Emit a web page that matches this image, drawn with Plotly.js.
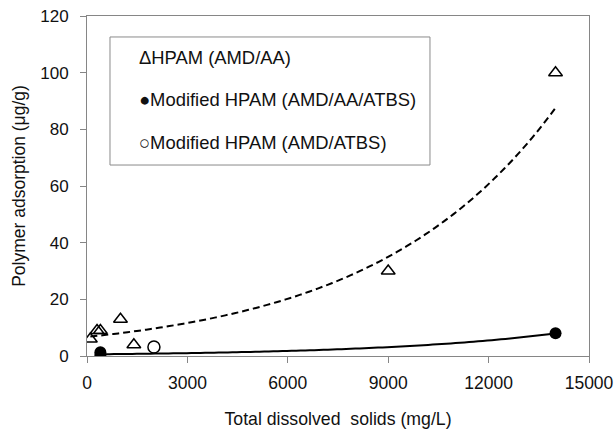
<!DOCTYPE html>
<html>
<head>
<meta charset="utf-8">
<script src="https://cdn.plot.ly/plotly-3.0.1.min.js"></script>
<style>html,body{margin:0;padding:0;background:#fff;}#chart{width:616px;height:435px;}</style>
</head>
<body>
<div id="chart"></div>
<script>
// HPAM (AMD/AA) - open triangles
const hpamX = [100, 300, 400, 1000, 1400, 9000, 14000];
const hpamY = [6, 9, 9, 13, 4, 30, 100];
// Modified HPAM (AMD/AA/ATBS) - filled circles
const modAX = [400, 400, 14000];
const modAY = [0.3, 1.3, 8];
// Modified HPAM (AMD/ATBS) - open circles
const modBX = [2000];
const modBY = [3.2];

const xTicks = [0, 3000, 6000, 9000, 12000, 15000];
const yTicks = [0, 20, 40, 60, 80, 100, 120];

const legendLines = [
  'ΔHPAM (AMD/AA)',
  '●Modified HPAM (AMD/AA/ATBS)',
  '○Modified HPAM (AMD/ATBS)'
];

// Exponential trendline (least squares on ln y), like a spreadsheet trendline
function expFit(xs, ys, n) {
  const ly = ys.map(v => Math.log(v));
  const m = xs.length;
  const mx = xs.reduce((a, b) => a + b, 0) / m;
  const my = ly.reduce((a, b) => a + b, 0) / m;
  let sxy = 0, sxx = 0;
  for (let i = 0; i < m; i++) { sxy += (xs[i] - mx) * (ly[i] - my); sxx += (xs[i] - mx) ** 2; }
  const b = sxy / sxx, a = Math.exp(my - b * mx);
  const x0 = Math.min(...xs), x1 = Math.max(...xs);
  const fx = [], fy = [];
  for (let i = 0; i <= n; i++) { const x = x0 + (x1 - x0) * i / n; fx.push(x); fy.push(a * Math.exp(b * x)); }
  return {x: fx, y: fy};
}
const fitA = expFit(hpamX, hpamY, 100);
const fitB = expFit(modAX, modAY, 100);

const FONT = 'Liberation Sans, Arial, sans-serif';

const traces = [
  {x: fitA.x, y: fitA.y, mode: 'lines', line: {color: '#000', width: 2, dash: '7px,4px', simplify: false}, hoverinfo: 'skip'},
  {x: fitB.x, y: fitB.y, mode: 'lines', line: {color: '#000', width: 2, simplify: false}, hoverinfo: 'skip'},
  {x: hpamX, y: hpamY, mode: 'markers', marker: {symbol: 'triangle-up-open', size: 12, color: '#000', line: {width: 1.5, color: '#000'}}},
  {x: modBX, y: modBY, mode: 'markers', marker: {symbol: 'circle-open', size: 12, color: '#000', line: {width: 1.5, color: '#000'}}},
  {x: modAX, y: modAY, mode: 'markers', marker: {symbol: 'circle', size: 12, color: '#000'}}
];

const annotations = legendLines.map((t, i) => ({
  text: t, x: 1494, y: [105.2, 90.4, 75.5][i], xref: 'x', yref: 'y',
  xanchor: 'left', yanchor: 'middle', showarrow: false,
  font: {family: FONT, size: 18.4, color: '#111'}
}));

const layout = {
  width: 616, height: 435,
  margin: {l: 87, r: 27, t: 16, b: 79},
  paper_bgcolor: '#fff', plot_bgcolor: '#fff',
  showlegend: false,
  font: {family: FONT, size: 17, color: '#111'},
  xaxis: {
    range: [0, 15000], tickvals: xTicks, ticktext: xTicks.map(String),
    showgrid: false, zeroline: false, showline: true, linecolor: '#868686', linewidth: 1,
    mirror: true, ticks: 'outside', ticklen: 6, tickcolor: '#868686', ticklabelstandoff: 5,
    tickfont: {family: FONT, size: 17.5, color: '#111'},
    title: {text: 'Total dissolved  solids (mg/L)', font: {family: FONT, size: 17.7, color: '#111'}, standoff: 20}
  },
  yaxis: {
    range: [0, 120], tickvals: yTicks, ticktext: yTicks.map(String),
    showgrid: false, zeroline: false, showline: true, linecolor: '#868686', linewidth: 1,
    mirror: true, ticks: 'outside', ticklen: 6, tickcolor: '#868686', ticklabelstandoff: 8,
    tickfont: {family: FONT, size: 17, color: '#111'},
    title: {text: 'Polymer adsorption (μg/g)', font: {family: FONT, size: 17.5, color: '#111'}, standoff: 10}
  },
  shapes: [{type: 'rect', xref: 'x', yref: 'y', x0: 687, x1: 10248, y0: 67.4, y1: 112.6,
            line: {color: '#8a8a8a', width: 1}, fillcolor: 'rgba(0,0,0,0)'}],
  annotations: annotations
};

Plotly.newPlot('chart', traces, layout, {displayModeBar: false, staticPlot: true});
</script>
</body>
</html>
